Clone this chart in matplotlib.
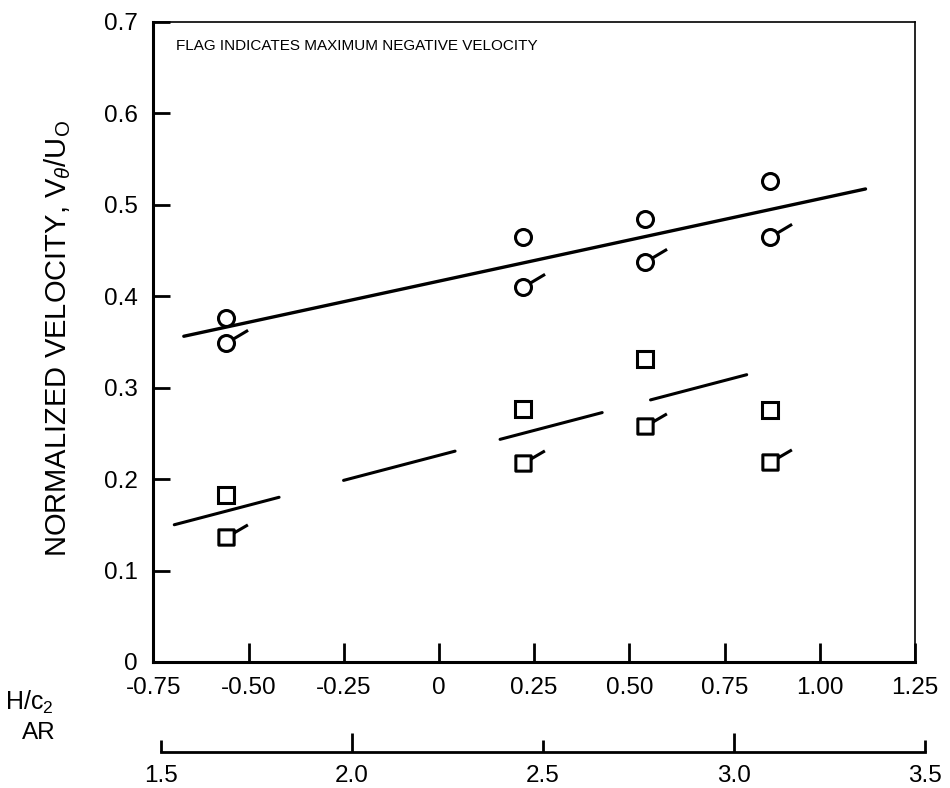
import numpy as np
import matplotlib.pyplot as plt
from matplotlib.path import Path

plt.rcParams['font.family'] = ['Liberation Sans', 'DejaVu Sans']
plt.rcParams['mathtext.fontset'] = 'custom'
plt.rcParams['mathtext.rm'] = 'Liberation Sans'
plt.rcParams['mathtext.it'] = 'Liberation Sans:italic'
plt.rcParams['axes.unicode_minus'] = False
plt.rcParams['lines.scale_dashes'] = False

# Punti misurati (ascissa H/c2)
h_pos = [-0.56, 0.22, 0.54, 0.87]
circ_plain = [0.376, 0.464, 0.484, 0.526]
circ_flag = [0.349, 0.410, 0.437, 0.464]
sq_plain = [0.182, 0.277, 0.331, 0.275]
sq_flag = [0.137, 0.218, 0.258, 0.219]

# Rette di tendenza
fit_circ_x = [-0.67, 1.12]
fit_circ_y = [0.356, 0.517]
fit_sq_x = [-0.695, 0.808]
fit_sq_y = [0.150, 0.314]

# Assi
h_ticks = [-0.75, -0.50, -0.25, 0, 0.25, 0.50, 0.75, 1.00, 1.25]
h_labels = ['-0.75', '-0.50', '-0.25', '0', '0.25', '0.50', '0.75', '1.00', '1.25']
y_ticks = [0, 0.1, 0.2, 0.3, 0.4, 0.5, 0.6, 0.7]
y_labels = ['0', '0.1', '0.2', '0.3', '0.4', '0.5', '0.6', '0.7']
ar_major = [2.0, 3.0]
ar_major_labels = ['2.0', '3.0']
ar_minor = [1.5, 2.5, 3.5]
ar_minor_labels = ['1.5', '2.5', '3.5']

# Marker con bandierina (cerchio / quadrato + segmento)
flag_c = Path([(0.85, 0.55), (2.7, 1.65)])
circ_flag_path = Path.make_compound_path(Path.unit_circle(), flag_c)
sq_box = Path([(-1, -1), (1, -1), (1, 1), (-1, 1), (-1, -1)],
              [Path.MOVETO, Path.LINETO, Path.LINETO, Path.LINETO, Path.CLOSEPOLY])
flag_s = Path([(1.0, 0.6), (2.8, 1.65)])
sq_flag_path = Path.make_compound_path(sq_box, flag_s)

ms_c = 11.5
ms_s = 11.0
mew = 2.2
ms_cf = ms_c * np.max(np.abs(circ_flag_path.vertices))
ms_sf = ms_s * np.max(np.abs(sq_flag_path.vertices))

fig = plt.figure(figsize=(9.5, 7.88), dpi=100)
ax = fig.add_axes([0.1614, 0.1599, 0.8018, 0.8128])

ax.plot(fit_circ_x, fit_circ_y, '-k', lw=2.4, solid_capstyle='round')
ax.plot(fit_sq_x, fit_sq_y, color='k', lw=2.2,
        dashes=(78, 48, 83, 33.5, 76, 36, 75, 40), dash_capstyle='round')

ax.plot(h_pos, circ_plain, 'o', ms=ms_c, mfc='white', mec='k', mew=mew)
ax.plot(h_pos, circ_flag, ls='none', marker=circ_flag_path, ms=ms_cf, mfc='none', mec='k', mew=mew)
ax.plot(h_pos, sq_plain, 's', ms=ms_s, mfc='white', mec='k', mew=mew)
ax.plot(h_pos, sq_flag, ls='none', marker=sq_flag_path, ms=ms_sf, mfc='none', mec='k', mew=mew)

ax.set_xlim(-0.75, 1.25)
ax.set_ylim(0, 0.7)
ax.set_xticks(h_ticks)
ax.set_xticklabels(h_labels)
ax.set_yticks(y_ticks)
ax.set_yticklabels(y_labels)
ax.tick_params(axis='x', direction='in', length=14, width=2, labelsize=17.5, pad=11)
ax.tick_params(axis='y', direction='in', length=12, width=2, labelsize=17.5, pad=11)
ax.spines['left'].set_linewidth(2.2)
ax.spines['bottom'].set_linewidth(2.2)
ax.spines['top'].set_linewidth(1.2)
ax.spines['right'].set_linewidth(1.2)

fig.text(176 / 950, 1 - 46 / 788, 'FLAG INDICATES MAXIMUM NEGATIVE VELOCITY',
         fontsize=11, va='center', ha='left')
fig.text(58 / 950, 1 - 338 / 788, r'NORMALIZED VELOCITY, V$_\theta$/U$_\mathrm{O}$',
         fontsize=21, rotation=90, va='center', ha='center')
fig.text(5 / 950, 1 - 702 / 788, r'H/c$_2$', fontsize=18, va='center', ha='left')
fig.text(22 / 950, 1 - 733 / 788, 'AR', fontsize=17.5, va='center', ha='left')

# Secondo asse (AR)
ax2 = fig.add_axes([0.1692, 0.0453, 0.8045, 0.0001])
ax2.set_xlim(1.5, 3.5)
ax2.patch.set_visible(False)
for s in ['top', 'left', 'right']:
    ax2.spines[s].set_visible(False)
ax2.spines['bottom'].set_linewidth(2)
ax2.set_yticks([])
ax2.set_xticks(ar_major)
ax2.set_xticklabels(ar_major_labels)
ax2.set_xticks(ar_minor, minor=True)
ax2.set_xticklabels(ar_minor_labels, minor=True)
ax2.tick_params(axis='x', which='major', direction='in', length=14, width=2, labelsize=17.5, pad=9)
ax2.tick_params(axis='x', which='minor', direction='in', length=9, width=2, labelsize=17.5, pad=9)

fig.savefig('out.png', dpi=100)
